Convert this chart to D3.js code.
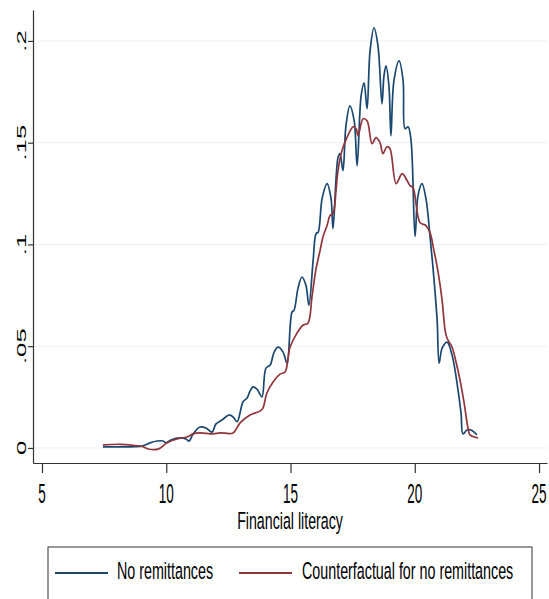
<!DOCTYPE html>
<html>
<head>
<meta charset="utf-8">
<script src="https://cdn.jsdelivr.net/npm/d3@7"></script>
<style>
  html, body { margin: 0; padding: 0; background: #ffffff; }
  svg { display: block; }
  text { font-family: "Liberation Sans", Arial, Helvetica, sans-serif; fill: #000; }
</style>
</head>
<body>
<script>
// ---- data ----
const xTicks = [5, 10, 15, 20, 25];
const xTickLabels = ["5", "10", "15", "20", "25"];
const yTicks = [0, 0.05, 0.1, 0.15, 0.2];
const yTickLabels = ["0", ".05", ".1", ".15", ".2"];
const seriesNames = ["No remittances", "Counterfactual for no remittances"];
const seriesColors = ["#1a476f", "#90353b"];

const blueX = [7.45, 8.14, 8.74, 9.06, 9.35, 9.63, 9.87, 9.99, 10.19, 10.55, 10.79, 10.92, 11.08, 11.36, 11.60, 11.84,
  12.00, 12.24, 12.53, 12.69, 12.85, 13.09, 13.25, 13.37, 13.49, 13.65, 13.85, 14.01, 14.18, 14.34, 14.50, 14.70,
  14.86, 15.06, 15.14, 15.30, 15.46, 15.62, 15.74, 15.91, 16.03, 16.11, 16.27, 16.47, 16.63, 16.71, 16.91, 16.99,
  17.11, 17.23, 17.39, 17.56, 17.68, 17.84, 17.96, 18.08, 18.20, 18.36, 18.52, 18.68, 18.76, 18.84, 18.96, 19.04,
  19.16, 19.37, 19.53, 19.61, 19.73, 19.85, 20.01, 20.13, 20.29, 20.45, 20.61, 20.77, 20.90, 20.98, 21.10, 21.30,
  21.50, 21.70, 21.86, 21.94, 22.10, 22.26, 22.42, 22.50];
const blueY = [0.0005, 0.0005, 0.0006, 0.0010, 0.0025, 0.0034, 0.0034, 0.0025, 0.0039, 0.0049, 0.0044, 0.0034, 0.0069, 0.0103, 0.0098, 0.0078,
  0.0118, 0.0137, 0.0162, 0.0152, 0.0129, 0.0227, 0.0245, 0.0279, 0.0300, 0.0289, 0.0251, 0.0392, 0.0407, 0.0471, 0.0495, 0.0471,
  0.0417, 0.0668, 0.0676, 0.0784, 0.0840, 0.0799, 0.0701, 0.0922, 0.1054, 0.1059, 0.1225, 0.1299, 0.1225, 0.1078, 0.1426, 0.1446,
  0.1363, 0.1583, 0.1681, 0.1608, 0.1387, 0.1730, 0.1794, 0.1667, 0.1951, 0.2064, 0.1975, 0.1691, 0.1828, 0.1877, 0.1779, 0.1534,
  0.1804, 0.1902, 0.1804, 0.1569, 0.1578, 0.1510, 0.1039, 0.1240, 0.1299, 0.1225, 0.1044, 0.0833, 0.0627, 0.0417, 0.0490, 0.0520,
  0.0456, 0.0319, 0.0172, 0.0069, 0.0088, 0.0088, 0.0074, 0.0064];

const redX = [7.45, 8.14, 8.66, 9.06, 9.27, 9.67, 10.03, 10.43, 10.83, 11.08, 11.36, 11.88, 12.16, 12.69, 12.97, 13.37,
  13.77, 13.89, 14.05, 14.30, 14.58, 14.78, 14.98, 15.26, 15.50, 15.70, 15.87, 16.03, 16.19, 16.31, 16.47, 16.59,
  16.71, 16.83, 16.91, 17.07, 17.27, 17.52, 17.64, 17.72, 17.92, 18.08, 18.28, 18.44, 18.60, 18.72, 18.88, 19.00,
  19.25, 19.49, 19.69, 19.81, 19.93, 20.21, 20.45, 20.61, 20.77, 20.94, 21.10, 21.22, 21.30, 21.50, 21.66, 21.82,
  21.98, 22.14, 22.22, 22.55];
const redY = [0.0015, 0.0018, 0.0013, 0.0006, -0.0005, -0.0006, 0.0025, 0.0044, 0.0054, 0.0069, 0.0074, 0.0069, 0.0074, 0.0074, 0.0123, 0.0162,
  0.0181, 0.0196, 0.0270, 0.0324, 0.0363, 0.0373, 0.0495, 0.0564, 0.0603, 0.0613, 0.0750, 0.0882, 0.0971, 0.1039, 0.1093, 0.1142,
  0.1152, 0.1265, 0.1363, 0.1461, 0.1525, 0.1578, 0.1569, 0.1534, 0.1618, 0.1608, 0.1495, 0.1525, 0.1500, 0.1446, 0.1480, 0.1471,
  0.1299, 0.1348, 0.1314, 0.1289, 0.1279, 0.1108, 0.1093, 0.1059, 0.0971, 0.0863, 0.0725, 0.0578, 0.0539, 0.0495, 0.0422, 0.0333,
  0.0225, 0.0098, 0.0064, 0.0049];

// ---- layout ----
const W = 549, H = 599;
const svg = d3.select("body").append("svg").attr("width", W).attr("height", H);

const x = d3.scaleLinear().domain([4.638, 25.32]).range([33, 547]);
const y = d3.scaleLinear().domain([-0.0074, 0.2152]).range([463, 10]);

// gridlines
svg.append("g").selectAll("line").data(yTicks).join("line")
  .attr("x1", 33).attr("x2", 547)
  .attr("y1", d => y(d)).attr("y2", d => y(d))
  .attr("stroke", "#eef0f2").attr("stroke-width", 1);

// axes
const gx = svg.append("g").attr("transform", `translate(0,${y.range()[0]})`)
  .call(d3.axisBottom(x).tickValues(xTicks).tickSize(10).tickSizeOuter(0).tickFormat(""));
const gy = svg.append("g").attr("transform", `translate(${x.range()[0]},0)`)
  .call(d3.axisLeft(y).tickValues(yTicks).tickSize(5).tickSizeOuter(0).tickFormat(""));
[gx, gy].forEach(g => {
  g.selectAll("path.domain").attr("stroke", "#333").attr("stroke-width", 1.2);
  g.selectAll(".tick line").attr("stroke", "#333").attr("stroke-width", 1.2);
});

// tick labels (vertically stretched like the reference)
const SX = 2.0;
svg.append("g").selectAll("text").data(xTicks).join("text")
  .attr("transform", d => `translate(${x(d)},503) scale(1,${SX})`)
  .attr("text-anchor", "middle").attr("font-size", 13.5)
  .text((d, i) => xTickLabels[i]);

svg.append("g").selectAll("text").data(yTicks).join("text")
  .attr("transform", d => `translate(26,${y(d)}) scale(1,1.9) rotate(-90)`)
  .attr("text-anchor", "middle").attr("font-size", 13.5)
  .text((d, i) => yTickLabels[i]);

// axis title
svg.append("text")
  .attr("transform", `translate(290,529) scale(1,1.7)`)
  .attr("text-anchor", "middle").attr("font-size", 14.2)
  .text("Financial literacy");

// lines
const line = d3.line().x(d => x(d[0])).y(d => y(d[1])).curve(d3.curveCatmullRom.alpha(0.5));
const series = [
  d3.zip(blueX, blueY),
  d3.zip(redX, redY)
];
svg.append("g").selectAll("path").data(series).join("path")
  .attr("d", line)
  .attr("fill", "none")
  .attr("stroke", (d, i) => seriesColors[i])
  .attr("stroke-width", 1.7)
  .attr("stroke-linejoin", "round");

// legend
const leg = svg.append("g");
leg.append("rect").attr("x", 48).attr("y", 547).attr("width", 484).attr("height", 60)
  .attr("fill", "#fff").attr("stroke", "#333").attr("stroke-width", 1);
const legItems = [{x1: 55, x2: 108, tx: 117}, {x1: 239, x2: 292, tx: 302}];
leg.selectAll("line.k").data(legItems).join("line").attr("class", "k")
  .attr("x1", d => d.x1).attr("x2", d => d.x2).attr("y1", 573).attr("y2", 573)
  .attr("stroke", (d, i) => seriesColors[i]).attr("stroke-width", 1.8);
leg.selectAll("text").data(legItems).join("text")
  .attr("transform", d => `translate(${d.tx},579) scale(1,1.73)`)
  .attr("font-size", 14.3)
  .text((d, i) => seriesNames[i]);
</script>
</body>
</html>
